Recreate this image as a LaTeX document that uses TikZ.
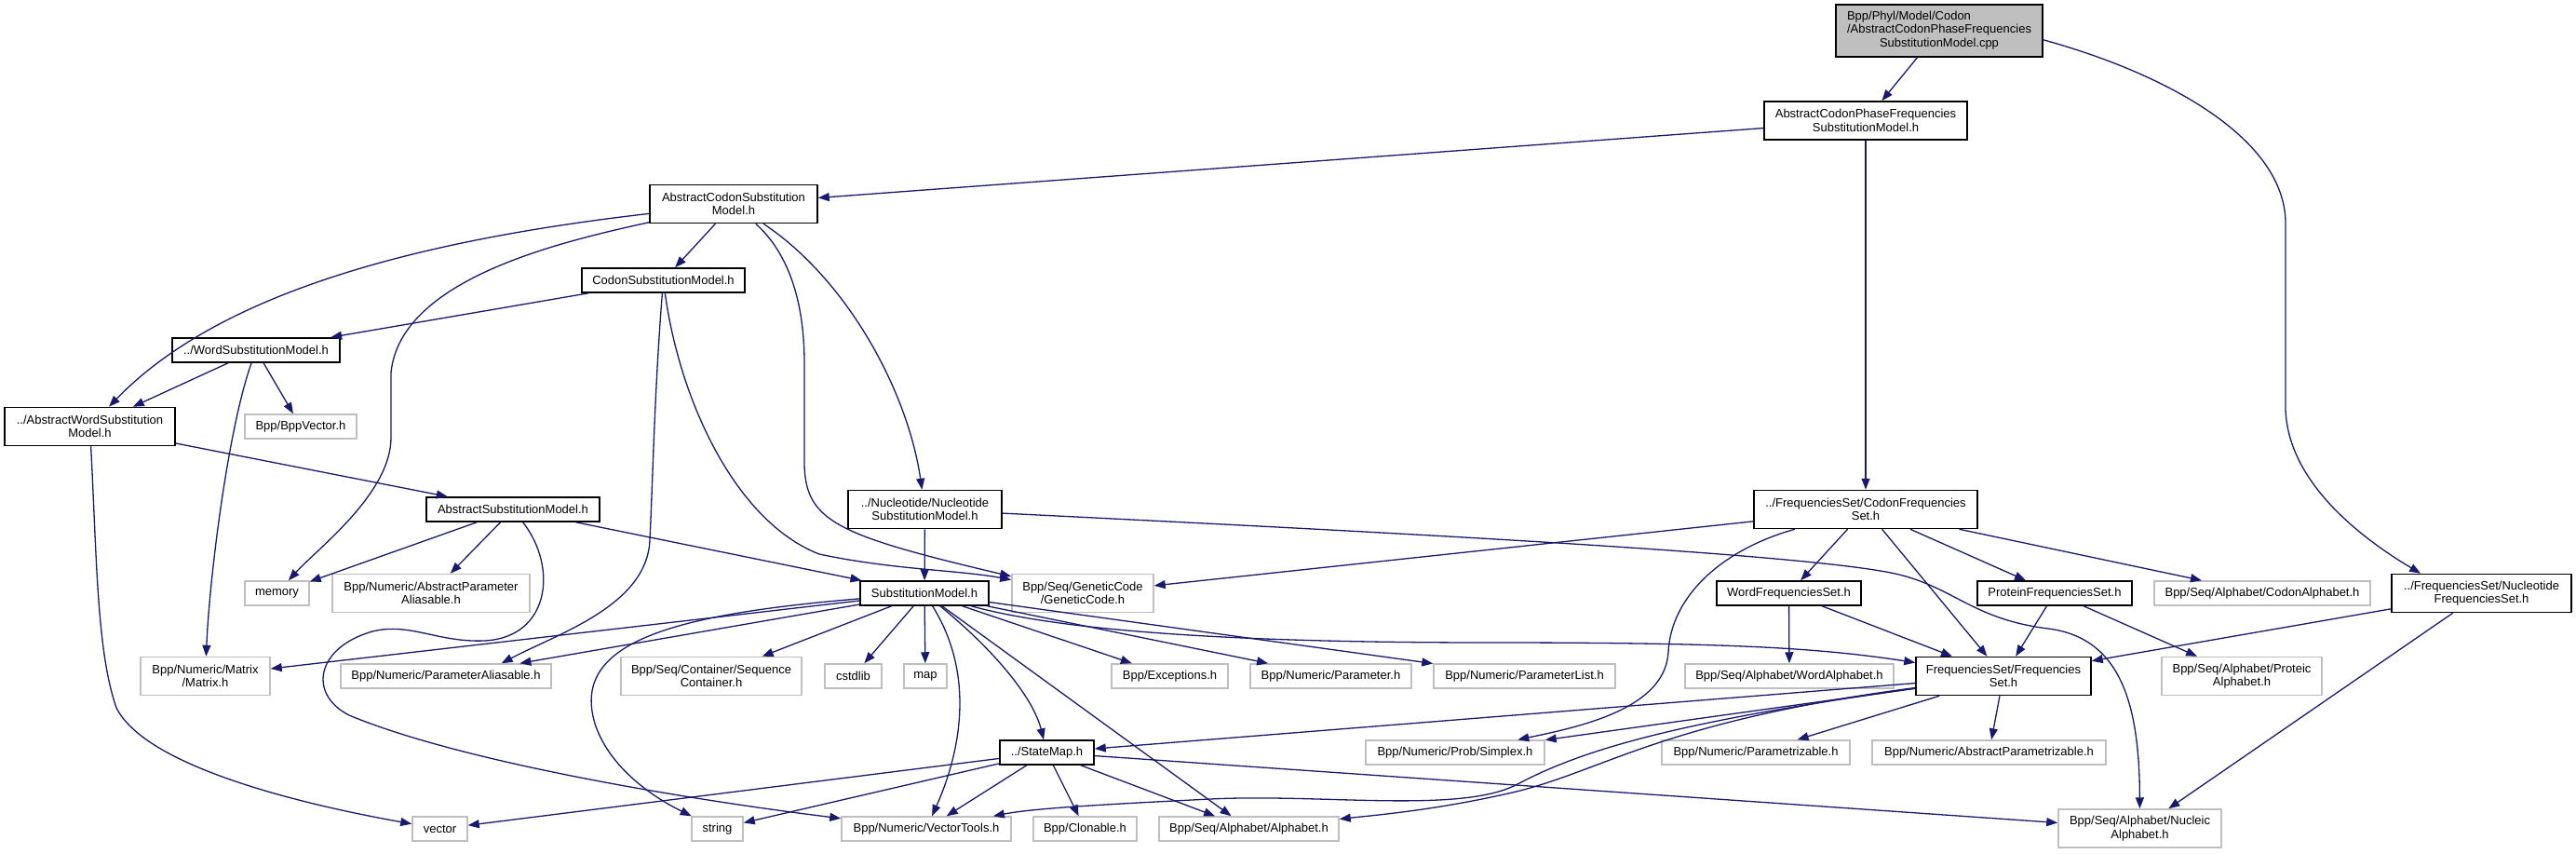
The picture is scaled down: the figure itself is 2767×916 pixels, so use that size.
\documentclass[tikz,border=0pt]{standalone}
\usepackage{fontspec}
\setmainfont{Liberation Sans}
\usetikzlibrary{arrows.meta}

\definecolor{edgeblue}{HTML}{191970}
\definecolor{extgray}{HTML}{BFBFBF}

\tikzset{
  hdr/.style={draw=black, line width=1.5pt, fill=white, inner xsep=2pt, inner ysep=2pt,
    minimum height=26pt, align=center, font=\fontsize{13}{14.5}\selectfont},
  ext/.style={hdr, draw=extgray},
  twoline/.style={minimum height=41pt},
  threeline/.style={minimum height=56pt},
  dep/.style={draw=edgeblue, line width=1.3pt, -{Triangle[length=12pt,width=9pt]}}
}

\begin{document}
\begin{tikzpicture}[x=1pt,y=-1pt]
    \useasboundingbox (0,0) rectangle (2767,916);

    % Source file
    \node[hdr, threeline, fill=extgray, minimum width=222pt] (root) at (2083,33)
      {\begin{tabular}{@{}l@{}}Bpp/Phyl/Model/Codon\\/AbstractCodonPhaseFrequencies\\\multicolumn{1}{@{}c@{}}{SubstitutionModel.cpp}\end{tabular}};

    % Row 1 and 2
    \node[hdr, twoline, minimum width=218pt] (acpfsm) at (2004,129.5) {AbstractCodonPhaseFrequencies\\SubstitutionModel.h};
    \node[hdr, twoline, minimum width=180pt] (acsm) at (788,219) {AbstractCodonSubstitution\\Model.h};
    \node[hdr, minimum width=175pt] (csm) at (712.5,301) {CodonSubstitutionModel.h};
    \node[hdr, minimum width=180pt] (wsm) at (275,376) {../WordSubstitutionModel.h};
    \node[hdr, twoline, minimum width=183pt] (awsm) at (96.5,458) {../AbstractWordSubstitution\\Model.h};
    \node[ext, minimum width=120pt] (bppvector) at (323,458) {Bpp/BppVector.h};

    % Middle row
    \node[hdr, minimum width=186pt] (asm) at (551,547) {AbstractSubstitutionModel.h};
    \node[hdr, twoline, minimum width=165pt] (nsm) at (993.5,547) {../Nucleotide/Nucleotide\\SubstitutionModel.h};
    \node[hdr, twoline, minimum width=240pt] (cfs) at (2004,547) {../FrequenciesSet/CodonFrequencies\\Set.h};

    % Row at y 637
    \node[ext, minimum width=69pt] (memory) at (297.5,637) {memory};
    \node[ext, twoline, minimum width=212pt] (absparalias) at (463,637) {Bpp/Numeric/AbstractParameter\\Aliasable.h};
    \node[hdr, minimum width=138pt] (sm) at (993,637) {SubstitutionModel.h};
    \node[ext, twoline, minimum width=152pt] (genetic) at (1163,637) {Bpp/Seq/GeneticCode\\/GeneticCode.h};
    \node[hdr, minimum width=155pt] (wordfs) at (1921.5,637) {WordFrequenciesSet.h};
    \node[hdr, minimum width=166pt] (proteinfs) at (2207,637) {ProteinFrequenciesSet.h};
    \node[ext, minimum width=232pt] (codonalpha) at (2430,637) {Bpp/Seq/Alphabet/CodonAlphabet.h};
    \node[hdr, twoline, minimum width=193pt] (nfs) at (2665.5,637) {../FrequenciesSet/Nucleotide\\FrequenciesSet.h};

    % Row at y 726
    \node[ext, twoline, minimum width=139pt] (matrix) at (220.5,726) {Bpp/Numeric/Matrix\\/Matrix.h};
    \node[ext, minimum width=226pt] (paralias) at (479,726) {Bpp/Numeric/ParameterAliasable.h};
    \node[ext, twoline, minimum width=194pt] (seqcont) at (764,726) {Bpp/Seq/Container/Sequence\\Container.h};
    \node[ext, minimum width=61pt] (cstdlib) at (916.5,726) {cstdlib};
    \node[ext, minimum width=46pt] (map) at (994,726) {map};
    \node[ext, minimum width=125pt] (exceptions) at (1256.5,726) {Bpp/Exceptions.h};
    \node[ext, minimum width=173pt] (parameter) at (1429.5,726) {Bpp/Numeric/Parameter.h};
    \node[ext, minimum width=195pt] (paramlist) at (1637.5,726) {Bpp/Numeric/ParameterList.h};
    \node[ext, minimum width=224pt] (wordalpha) at (1922,726) {Bpp/Seq/Alphabet/WordAlphabet.h};
    \node[hdr, twoline, minimum width=188pt] (fs) at (2152,726) {FrequenciesSet/Frequencies\\Set.h};
    \node[ext, twoline, minimum width=172pt] (proteic) at (2408,726) {Bpp/Seq/Alphabet/Proteic\\Alphabet.h};

    % Row at y 808
    \node[hdr, minimum width=101pt] (statemap) at (1124.5,808) {../StateMap.h};
    \node[ext, minimum width=192pt] (simplex) at (1563,808) {Bpp/Numeric/Prob/Simplex.h};
    \node[ext, minimum width=202pt] (parametrizable) at (1886,808) {Bpp/Numeric/Parametrizable.h};
    \node[ext, minimum width=251pt] (absparametrizable) at (2136.5,808) {Bpp/Numeric/AbstractParametrizable.h};

    % Bottom row
    \node[ext, minimum width=59pt] (vector) at (472.5,890) {vector};
    \node[ext, minimum width=55pt] (string) at (770.5,890) {string};
    \node[ext, minimum width=182pt] (vectortools) at (995,890) {Bpp/Numeric/VectorTools.h};
    \node[ext, minimum width=111pt] (clonable) at (1165.5,890) {Bpp/Clonable.h};
    \node[ext, minimum width=193pt] (alphabet) at (1341.5,890) {Bpp/Seq/Alphabet/Alphabet.h};
    \node[ext, twoline, minimum width=175pt] (nucleic) at (2298.5,889.5) {Bpp/Seq/Alphabet/Nucleic\\Alphabet.h};

    % Source file includes
    \draw[dep] (root) -- (acpfsm);
    \draw[dep] (root.-5) .. controls (2330,80) and (2455,150) .. (2455,240) -- (2455,440)
      .. controls (2458,520) and (2540,580) .. (nfs.162);

    % AbstractCodonPhaseFrequencies
    \draw[dep] (acpfsm) -- (acsm);
    \draw[dep] (acpfsm) -- (cfs);

    % AbstractCodonSubstitution
    \draw[dep] (acsm) -- (csm);
    \draw[dep] (acsm) .. controls (430,260) and (230,320) .. (awsm);
    \draw[dep] (acsm) .. controls (600,260) and (430,300) .. (420,400) -- (420,470)
      .. controls (420,530) and (340,590) .. (memory);
    \draw[dep] (acsm) .. controls (910,300) and (975,420) .. (nsm);
    \draw[dep] (acsm) .. controls (845,270) and (864,320) .. (864,390) -- (864,500)
      .. controls (866,560) and (900,575) .. (genetic);

    % CodonSubstitution
    \draw[dep] (csm) -- (wsm);
    \draw[dep] (csm) .. controls (730,430) and (790,560) .. (880,595)
      .. controls (960,612) and (1030,612) .. (genetic);
    \draw[dep] (csm) .. controls (703,420) and (701,520) .. (698,580)
      .. controls (695,650) and (600,680) .. (paralias.13);

    % WordSubstitution
    \draw[dep] (wsm) -- (awsm);
    \draw[dep] (wsm) -- (bppvector);
    \draw[dep] (wsm) .. controls (245,460) and (225,620) .. (matrix);

    % AbstractWordSubstitution
    \draw[dep] (awsm) -- (asm);
    \draw[dep] (awsm) .. controls (104,600) and (104,700) .. (125,760)
      .. controls (160,830) and (360,870) .. (vector);

    % AbstractSubstitution
    \draw[dep] (asm) -- (memory);
    \draw[dep] (asm) -- (absparalias);
    \draw[dep] (asm) -- (sm);
    \draw[dep] (asm) .. controls (600,610) and (590,685) .. (520,688)
      .. controls (470,690) and (440,668) .. (400,678)
      .. controls (340,695) and (330,745) .. (375,768)
      .. controls (500,820) and (750,860) .. (vectortools);

    % SubstitutionModel
    \draw[dep] (sm) -- (matrix);
    \draw[dep] (sm) -- (paralias);
    \draw[dep] (sm) -- (seqcont);
    \draw[dep] (sm) -- (cstdlib);
    \draw[dep] (sm) -- (map);
    \draw[dep] (sm) -- (exceptions);
    \draw[dep] (sm) -- (parameter);
    \draw[dep] (sm) -- (paramlist);
    \draw[dep] (sm) .. controls (1150,680) and (1350,690) .. (1600,690)
      .. controls (1850,690) and (1950,695) .. (fs);
    \draw[dep] (sm) .. controls (1070,700) and (1110,750) .. (statemap);
    \draw[dep] (sm) .. controls (1045,720) and (1035,800) .. (vectortools);
    \draw[dep] (sm) .. controls (720,660) and (610,690) .. (640,780)
      .. controls (660,835) and (720,865) .. (string);
    \draw[dep] (sm) -- (alphabet);

    % NucleotideSubstitution
    \draw[dep] (nsm) -- (sm);
    \draw[dep] (nsm) .. controls (1500,572) and (1950,595) .. (2040,617)
      .. controls (2100,632) and (2120,665) .. (2200,675)
      .. controls (2280,685) and (2298,760) .. (nucleic);

    % CodonFrequenciesSet
    \draw[dep] (cfs) -- (genetic);
    \draw[dep] (cfs) .. controls (1850,590) and (1795,640) .. (1792,700)
      .. controls (1789,760) and (1700,780) .. (simplex);
    \draw[dep] (cfs) -- (wordfs);
    \draw[dep] (cfs) -- (fs);
    \draw[dep] (cfs) -- (proteinfs);
    \draw[dep] (cfs) -- (codonalpha);

    % Word, Protein and Nucleotide FrequenciesSet
    \draw[dep] (wordfs) -- (wordalpha);
    \draw[dep] (wordfs) -- (fs);
    \draw[dep] (proteinfs) -- (fs);
    \draw[dep] (proteinfs) -- (proteic);
    \draw[dep] (nfs) -- (fs);
    \draw[dep] (nfs) -- (nucleic);

    % FrequenciesSet
    \draw[dep] (fs) -- (statemap);
    \draw[dep] (fs) -- (simplex);
    \draw[dep] (fs) .. controls (1800,775) and (1700,805) .. (1630,842)
      .. controls (1570,874) and (1420,852) .. (1300,858)
      .. controls (1180,864) and (1110,868) .. (vectortools);
    \draw[dep] (fs) .. controls (1780,775) and (1720,830) .. (1620,852)
      .. controls (1540,870) and (1480,875) .. (alphabet);
    \draw[dep] (fs) -- (parametrizable);
    \draw[dep] (fs) -- (absparametrizable);

    % StateMap
    \draw[dep] (statemap) -- (vector);
    \draw[dep] (statemap) -- (string);
    \draw[dep] (statemap) -- (vectortools);
    \draw[dep] (statemap) -- (clonable);
    \draw[dep] (statemap) -- (alphabet);
    \draw[dep] (statemap) -- (nucleic);
\end{tikzpicture}
\end{document}
